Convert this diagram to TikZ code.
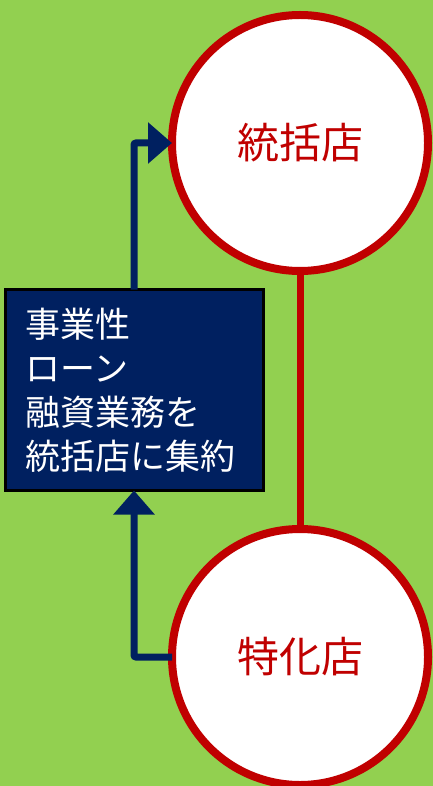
\documentclass[tikz,border=0pt]{standalone}
\usepackage{fontspec}
\newfontfamily\jp{Noto Sans CJK JP}
\usetikzlibrary{arrows.meta}
\definecolor{bggreen}{HTML}{92D050}
\definecolor{navy}{HTML}{002060}
\definecolor{darkred}{HTML}{C00000}
\tikzset{
  shop/.style={circle, draw=darkred, fill=white, line width=8pt, minimum size=256pt, inner sep=0pt, outer sep=0pt, text=darkred, font=\jp\fontsize{42}{50}\selectfont},
  infobox/.style={rectangle, draw=black, fill=navy, line width=3pt, minimum width=258pt, minimum height=201pt, inner xsep=20pt, outer sep=0pt, text=white, align=left, text width=218pt, font=\jp\fontsize{35}{44}\selectfont},
  flow/.style={draw=navy, line width=7pt, rounded corners=2pt, -{Triangle[length=24pt,width=40pt]}},
  link/.style={draw=darkred, line width=7pt}
}
\begin{document}
\begin{tikzpicture}[x=1pt,y=-1pt]
\fill[bggreen] (0,0) rectangle (433,786);
\useasboundingbox (0,0) rectangle (433,786);
\coordinate (linkTop) at (300,200);
\draw[link] (300,200) -- (300,600);
\node[shop] (hub) at (300,143) {統括店};
\node[shop] (spec) at (300,657) {特化店};
\node[infobox] (box) at (134.5,390) {事業性\\ローン\\融資業務を\\統括店に集約};
\coordinate (c1) at (134,143);
\coordinate (c2) at (134,657);
\draw[flow] (box.north -| c1) -- (c1) -- (hub.west);
\draw[flow] (spec.west) -- (c2) -- (box.south -| c2);
\end{tikzpicture}
\end{document}
